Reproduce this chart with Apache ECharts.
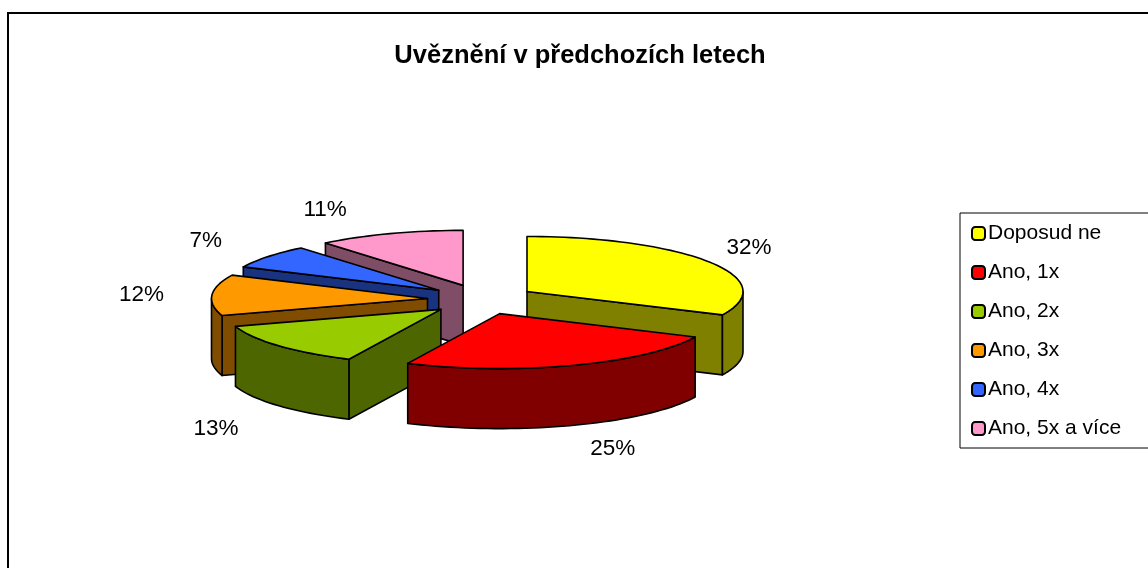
<!DOCTYPE html>
<html>
<head>
    <meta charset="utf-8" />
    <title>Uvěznění v předchozích letech</title>
    <script src="https://cdn.jsdelivr.net/npm/echarts@6/dist/echarts.min.js"></script>
    <style>
    html,body { margin:0; padding:0; background:#fff; }
    #main { width:1148px; height:568px; }
    </style>
</head>
<body>
    <div id="main"></div>
    <script type="text/javascript">
        var chartTitle = 'Uvěznění v předchozích letech';
        var categories = ['Doposud ne', 'Ano, 1x', 'Ano, 2x', 'Ano, 3x', 'Ano, 4x', 'Ano, 5x a více'];
        var values = [32, 25, 13, 12, 7, 11];
        var topColors = ['#FFFF00', '#FF0000', '#99CC00', '#FF9900', '#3366FF', '#FF99CC'];
        var wallColors = ['#808000', '#800000', '#4D6600', '#804D00', '#1A3380', '#804D66'];
        // label centre relative to the tip of its slice
        var labelOffsets = [[222, -44], [113, 135], [-225, 119], [-286, -4], [-233, -50], [-138, -76]];

        // projection of the pie
        var cx = 481.4, cy = 299.5, rx = 216, ry = 55, depth = 60;
        var explodeX = 54, explodeY = 15;
        var total = values.reduce(function (a, b) { return a + b; }, 0);

        // angle in degrees clockwise from the back of the pie
        function pt(tip, deg, drop) {
            var a = deg * Math.PI / 180;
            return [tip[0] + rx * Math.sin(a), tip[1] - ry * Math.cos(a) + (drop || 0)];
        }
        function arc(tip, from, to, drop) {
            var pts = [], n = Math.max(2, Math.ceil(Math.abs(to - from) / 2));
            for (var i = 0; i <= n; i++) {
                pts.push(pt(tip, from + (to - from) * i / n, drop));
            }
            return pts;
        }
        function poly(points, fill) {
            return {
                type: 'polygon',
                shape: { points: points },
                style: { fill: fill, stroke: '#000', lineWidth: 1.6, lineJoin: 'round' }
            };
        }
        function down(p) { return [p[0], p[1] + depth]; }

        var slices = [], sum = 0;
        values.forEach(function (v) {
            var start = sum / total * 360;
            sum += v;
            var end = sum / total * 360;
            var mid = (start + end) / 2 * Math.PI / 180;
            slices.push({
                start: start,
                end: end,
                tip: [cx + explodeX * Math.sin(mid), cy - explodeY * Math.cos(mid)],
                back: -Math.cos(mid)
            });
        });

        function drawSlice(idx) {
            var s = slices[idx], tip = s.tip, children = [];
            // cut wall on the starting edge, seen when it turns to the viewer
            var sn = (s.start + 270) % 360;
            if (sn > 90 && sn < 270) {
                var p = pt(tip, s.start);
                children.push(poly([tip, p, down(p), down(tip)], wallColors[idx]));
            }
            // cut wall on the ending edge
            var en = (s.end + 90) % 360;
            if (en > 90 && en < 270) {
                var q = pt(tip, s.end);
                children.push(poly([tip, q, down(q), down(tip)], wallColors[idx]));
            }
            // outer wall, only the front half of the ellipse
            var from = Math.max(s.start, 90), to = Math.min(s.end, 270);
            if (to > from) {
                var upper = arc(tip, from, to, 0);
                var lower = arc(tip, to, from, depth);
                children.push(poly(upper.concat(lower), wallColors[idx]));
            }
            children.push(poly([tip].concat(arc(tip, s.start, s.end, 0)), topColors[idx]));
            children.push({
                type: 'text',
                style: {
                    text: values[idx] + '%',
                    x: tip[0] + labelOffsets[idx][0],
                    y: tip[1] + labelOffsets[idx][1],
                    fill: '#000',
                    font: '22.5px "Liberation Sans", Arial, sans-serif',
                    align: 'center',
                    verticalAlign: 'middle'
                }
            });
            return { type: 'group', children: children };
        }

        // paint from the back of the pie to the front
        var order = slices.map(function (s, i) { return i; }).sort(function (a, b) {
            return slices[a].back - slices[b].back;
        });

        var series = categories.map(function (name, i) {
            return {
                type: 'custom',
                name: name,
                coordinateSystem: 'none',
                z: 10 + order.indexOf(i),
                silent: true,
                itemStyle: { color: topColors[i], borderColor: '#000', borderWidth: 1.6 },
                data: [[values[i]]],
                renderItem: function () { return drawSlice(i); }
            };
        });

        var myChart = echarts.init(document.getElementById('main'));
        myChart.setOption({
            animation: false,
            title: {
                text: chartTitle,
                left: 575,
                top: 38,
                textAlign: 'center',
                textStyle: { fontFamily: '"Liberation Sans", Arial, sans-serif', fontWeight: 'bold', fontSize: 25.5, color: '#000' }
            },
            graphic: [{
                type: 'rect',
                z: 0,
                silent: true,
                shape: { x: 8, y: 13, width: 1300, height: 700 },
                style: { fill: '#fff', stroke: '#000', lineWidth: 2 }
            }],
            legend: {
                orient: 'vertical',
                left: 960,
                top: 213,
                padding: [9, 40, 8, 11],
                itemWidth: 13,
                itemHeight: 13,
                itemGap: 16,
                backgroundColor: '#fff',
                borderColor: '#000',
                borderWidth: 1,
                selectedMode: false,
                data: categories,
                textStyle: { fontFamily: '"Liberation Sans", Arial, sans-serif', fontSize: 21, color: '#000', padding: [0, 0, 0, -2], lineHeight: 23 }
            },
            series: series
        });
    </script>
</body>
</html>
